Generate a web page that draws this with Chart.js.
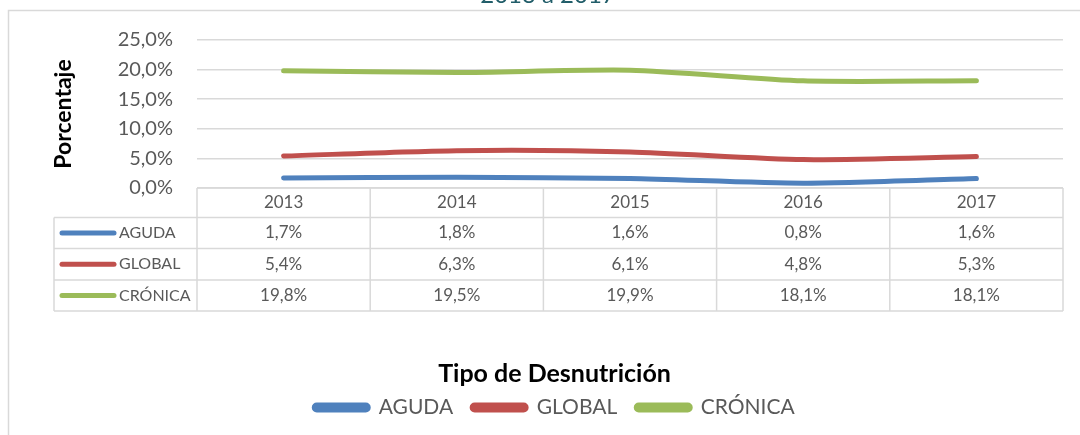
<!DOCTYPE html>
<html>
<head>
<meta charset="utf-8">
<script src="https://cdn.jsdelivr.net/npm/chart.js@4.4.1/dist/chart.umd.min.js"></script>
<style>
  html, body { margin: 0; padding: 0; background: #fff; }
  #wrap { width: 1080px; height: 435px; position: relative; }
</style>
</head>
<body>
<div id="wrap"><canvas id="myChart"></canvas></div>
<script>
// Datos
const years = ['2013', '2014', '2015', '2016', '2017'];
const aguda = [1.7, 1.8, 1.6, 0.8, 1.6];
const global = [5.4, 6.3, 6.1, 4.8, 5.3];
const cronica = [19.8, 19.5, 19.9, 18.1, 18.1];
const seriesNames = ['AGUDA', 'GLOBAL', 'CRÓNICA'];
const seriesColors = ['#4f81bd', '#c0504d', '#9bbb59'];

const FONT = 'Lato, Calibri, sans-serif';
const GRAY = '#595959';
const LINE = '#d9d9d9';

function pct(v) {
    return v.toFixed(1).replace('.', ',') + '%';
}

// marco, título cortado y tabla de datos bajo el gráfico
const tablaPlugin = {
    id: 'tabla',
    beforeDraw(chart) {
        const ctx = chart.ctx;
        ctx.save();
        ctx.strokeStyle = LINE;
        ctx.lineWidth = 1.5;
        ctx.beginPath();
        ctx.moveTo(8.5, 435);
        ctx.lineTo(8.5, 10.5);
        ctx.lineTo(1080, 10.5);
        ctx.stroke();

        ctx.fillStyle = '#215d69';
        ctx.font = '24px ' + FONT;
        ctx.textAlign = 'center';
        ctx.textBaseline = 'alphabetic';
        ctx.fillText('2013 a 2017', 548, 3);
        ctx.restore();
    },
    afterDraw(chart) {
        const ctx = chart.ctx;
        const x = chart.scales.x;
        const top = chart.chartArea.bottom;
        const rows = [top, top + 29.5, top + 60.5, top + 92, top + 123];
        const colW = x.width / years.length;
        const leftCol = 54;

        ctx.save();
        ctx.strokeStyle = LINE;
        ctx.lineWidth = 1.5;
        ctx.beginPath();
        ctx.moveTo(x.left, rows[0]);
        ctx.lineTo(x.right, rows[0]);
        for (let r = 1; r < rows.length; r++) {
            ctx.moveTo(leftCol, rows[r]);
            ctx.lineTo(x.right, rows[r]);
        }
        ctx.moveTo(leftCol, rows[1]);
        ctx.lineTo(leftCol, rows[4]);
        for (let c = 0; c <= years.length; c++) {
            const cx = x.left + c * colW;
            ctx.moveTo(cx, rows[0]);
            ctx.lineTo(cx, rows[4]);
        }
        ctx.stroke();

        ctx.fillStyle = GRAY;
        ctx.font = '17px ' + FONT;
        ctx.textAlign = 'center';
        ctx.textBaseline = 'middle';
        years.forEach((y, i) => {
            ctx.fillText(y, x.getPixelForValue(i), (rows[0] + rows[1]) / 2);
        });

        chart.data.datasets.forEach((ds, r) => {
            const cy = (rows[r + 1] + rows[r + 2]) / 2;
            ctx.strokeStyle = ds.borderColor;
            ctx.lineWidth = 5;
            ctx.lineCap = 'round';
            ctx.beginPath();
            ctx.moveTo(62, cy);
            ctx.lineTo(114, cy);
            ctx.stroke();
            ctx.fillStyle = GRAY;
            ctx.textAlign = 'left';
            ctx.font = '16px ' + FONT;
            ctx.fillText(ds.label, 119, cy);
            ctx.textAlign = 'center';
            ctx.font = '17px ' + FONT;
            ds.data.forEach((v, i) => {
                ctx.fillText(pct(v), x.getPixelForValue(i), cy);
            });
        });
        ctx.restore();
    }
};

const datasets = [aguda, global, cronica].map((d, i) => ({
    label: seriesNames[i],
    data: d,
    borderColor: seriesColors[i],
    backgroundColor: seriesColors[i],
    borderWidth: 5,
    borderCapStyle: 'round',
    pointRadius: 0,
    tension: 0.25,
    fill: false
}));

new Chart('myChart', {
    type: 'line',
    data: { labels: years, datasets: datasets },
    plugins: [tablaPlugin],
    options: {
        responsive: true,
        maintainAspectRatio: false,
        animation: false,
        layout: { padding: { left: 46, right: 17, top: 40, bottom: 7 } },
        scales: {
            x: {
                offset: true,
                grid: { display: false },
                border: { display: false },
                ticks: { display: false },
                afterFit(scale) { scale.height = 173; }
            },
            y: {
                min: 0,
                max: 25,
                grid: { color: LINE, lineWidth: 1.5, drawTicks: false },
                border: { display: false },
                ticks: {
                    stepSize: 5,
                    padding: 24,
                    color: GRAY,
                    font: { family: FONT, size: 20 },
                    callback: v => pct(v)
                },
                title: {
                    display: true,
                    text: 'Porcentaje',
                    color: '#000',
                    font: { family: FONT, size: 23, weight: 'bold' }
                },
                afterFit(scale) { scale.width = 151; }
            }
        },
        plugins: {
            legend: {
                position: 'bottom',
                title: {
                    display: true,
                    text: 'Tipo de Desnutrición',
                    color: '#000',
                    font: { family: FONT, size: 25, weight: 'bold' },
                    padding: { top: 0, bottom: -13 }
                },
                labels: {
                    boxWidth: 54,
                    boxHeight: 5,
                    useBorderRadius: true,
                    borderRadius: 2.5,
                    padding: 19,
                    color: GRAY,
                    font: { family: FONT, size: 21 }
                }
            },
            tooltip: { enabled: false }
        }
    }
});
</script>
</body>
</html>
